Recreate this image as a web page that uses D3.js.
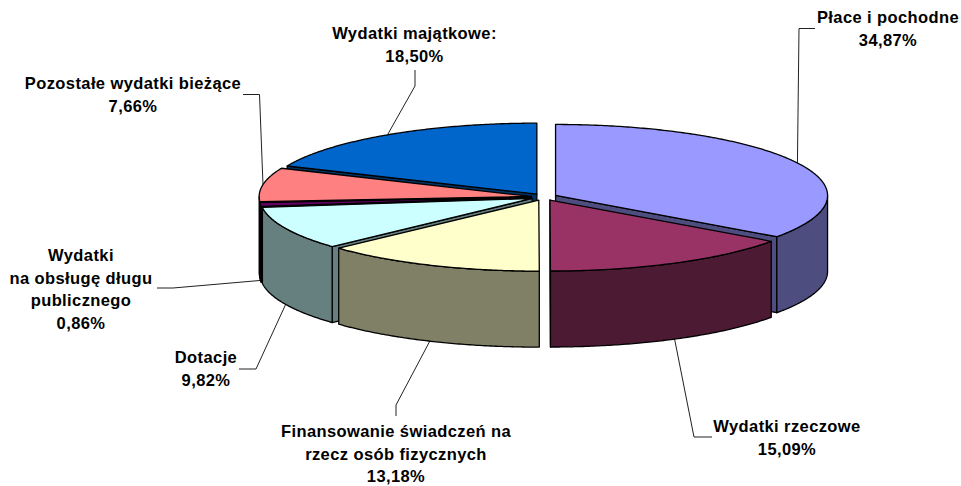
<!DOCTYPE html>
<html>
<head>
<meta charset="utf-8">
<script src="https://cdnjs.cloudflare.com/ajax/libs/d3/7.8.5/d3.min.js"></script>
<style>
body { margin: 0; background: #fff; }
text { font-family: "Liberation Sans", Arial, sans-serif; font-weight: bold; font-size: 16.5px; letter-spacing: 0.4px; fill: #000; }
</style>
</head>
<body>
<script>
const width = 961
const height = 486

const categories = ['Płace i pochodne', 'Wydatki rzeczowe', 'Finansowanie świadczeń na rzecz osób fizycznych',
    'Dotacje', 'Wydatki na obsługę długu publicznego', 'Pozostałe wydatki bieżące', 'Wydatki majątkowe']
const shares = [34.87, 15.09, 13.18, 9.82, 0.86, 7.66, 18.50]
const topColors = ['#9999FF', '#993366', '#FFFFCC', '#CCFFFF', '#660066', '#FF8080', '#0066CC']

// label text broken the way the chart breaks it
const labelLines = [
    ['Płace i pochodne'],
    ['Wydatki rzeczowe'],
    ['Finansowanie świadczeń na', 'rzecz osób fizycznych'],
    ['Dotacje'],
    ['Wydatki', 'na obsługę długu', 'publicznego'],
    ['Pozostałe wydatki bieżące'],
    ['Wydatki majątkowe:']
]

// label centre x, first baseline y, leader points after the slice anchor
const labelLayout = [
    { x: 888, y: 23, leader: [[799, 28.5], [815, 28.5]] },
    { x: 787, y: 432, leader: [[694, 437], [712, 437]] },
    { x: 396, y: 437, leader: [[396, 405], [396, 416]] },
    { x: 206, y: 363, leader: [[256, 369], [239, 369]] },
    { x: 81, y: 261, leader: [[173, 288], [157, 288]] },
    { x: 133, y: 89, leader: [[259.5, 94.5], [243, 94.5]] },
    { x: 414.5, y: 39, leader: [[415, 86], [415, 70]] }
]

const cx = 544
const cy = 197
const rx = 272
const ry = 71
const depth = 76
const explode = 13
const lineHeight = 22.5

// back to front
const paintOrder = [0, 6, 5, 4, 3, 1, 2]

const svg = d3.select('body').append('svg').attr('width', width).attr('height', height)

const pie = d3.pie().sort(null).value(d => d)
const slices = pie(shares).map((s, i) => {
    const mid = (s.startAngle + s.endAngle) / 2
    return {
        index: i,
        start: s.startAngle,
        end: s.endAngle,
        mid: mid,
        ox: cx + explode * Math.sin(mid),
        oy: cy - explode * ry / rx * Math.cos(mid)
    }
})

const line = d3.line()
const darker = c => { const r = d3.rgb(c); return d3.rgb(r.r / 2, r.g / 2, r.b / 2).formatHex() }

function rim(s, a, drop = 0) {
    return [s.ox + rx * Math.sin(a), s.oy - ry * Math.cos(a) + drop]
}

function arcAngles(a0, a1) {
    const n = Math.max(2, Math.ceil((a1 - a0) / 0.01))
    return d3.range(n + 1).map(i => a0 + (a1 - a0) * i / n)
}

// leaders sit behind the pie so they stop at its edge
const leaders = svg.append('g').attr('class', 'leaders')
slices.forEach(s => {
    const front = Math.cos(s.mid) < 0 || s.index === 4
    const anchor = rim(s, s.mid, front ? depth : 0)
    leaders.append('path')
        .attr('d', line([anchor].concat(labelLayout[s.index].leader)))
        .attr('fill', 'none')
        .attr('stroke', '#222')
        .attr('stroke-width', 1)
})

const pieG = svg.append('g').attr('class', 'pie')
paintOrder.forEach(i => {
    const s = slices[i]
    const g = pieG.append('g').attr('stroke', '#000').attr('stroke-width', 1.3).attr('stroke-linejoin', 'round')
    const wallColor = darker(topColors[i])

    // radial faces, only the ones turned towards the viewer
    const faces = []
    if (Math.sin(s.start) < 0) faces.push(s.start)
    if (Math.sin(s.end) > 0) faces.push(s.end)
    faces.forEach(a => {
        const p = rim(s, a)
        g.append('path')
            .attr('d', line([[s.ox, s.oy], p, [p[0], p[1] + depth], [s.ox, s.oy + depth]]) + 'Z')
            .attr('fill', wallColor)
    })

    // outer wall, front half only
    const a0 = Math.max(s.start, Math.PI / 2)
    const a1 = Math.min(s.end, Math.PI * 1.5)
    if (a1 > a0) {
        const angles = arcAngles(a0, a1)
        const pts = angles.map(a => rim(s, a)).concat(angles.slice().reverse().map(a => rim(s, a, depth)))
        g.append('path').attr('d', line(pts) + 'Z').attr('fill', wallColor)
    }

    // top
    const pts = [[s.ox, s.oy]].concat(arcAngles(s.start, s.end).map(a => rim(s, a)))
    g.append('path').attr('d', line(pts) + 'Z').attr('fill', topColors[i])
})

const fmt = v => v.toFixed(2).replace('.', ',') + '%'
const labels = svg.append('g').attr('class', 'labels').attr('text-anchor', 'middle')
labelLines.forEach((rows, i) => {
    const l = labelLayout[i]
    rows.concat(fmt(shares[i])).forEach((t, j) => {
        labels.append('text').attr('x', l.x).attr('y', l.y + j * lineHeight).text(t)
    })
})
</script>
</body>
</html>
